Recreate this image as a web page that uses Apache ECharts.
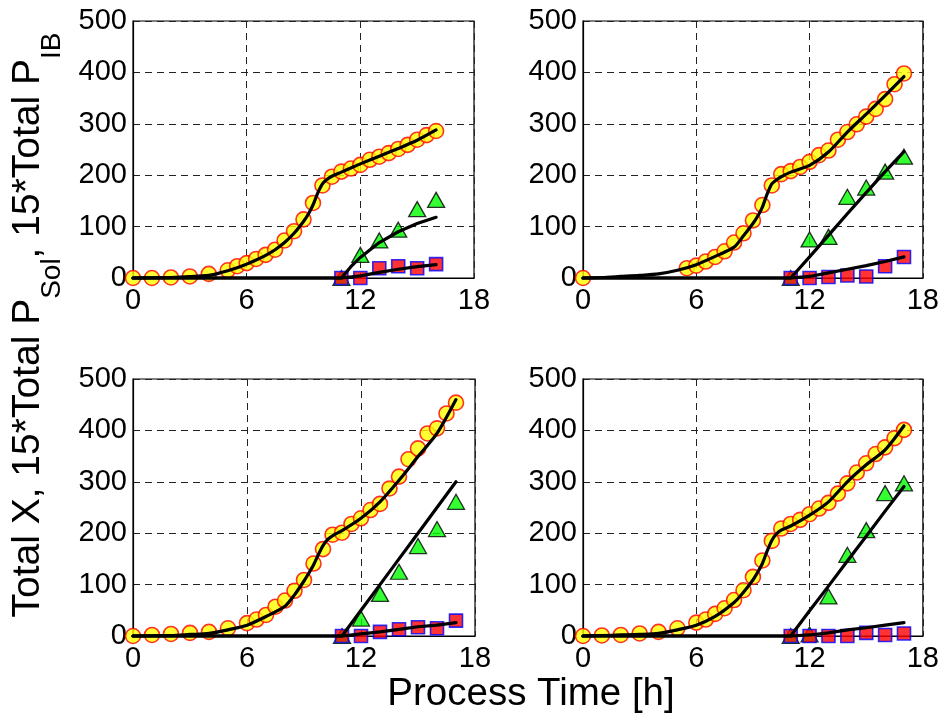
<!DOCTYPE html>
<html><head><meta charset="utf-8">
<script src="https://cdn.jsdelivr.net/npm/echarts@6/dist/echarts.min.js"></script>
<style>html,body{margin:0;padding:0;background:#fff}#c{width:942px;height:715px}</style>
</head><body><div id="c"></div>
<script>
// ---------- axis settings ----------
const xMin = 0, xMax = 18, xStep = 6;
const yMin = 0, yMax = 500, yStep = 100;
const xTitle = 'Process Time [h]';

// ---------- Top-left panel ----------
const tlCircT = [0,1,2,3,4,5,5.5,6,6.5,7,7.5,8,8.5,9,9.5,10,10.5,11,11.5,12,12.5,13,13.5,14,14.5,15,15.5,16];
const tlCircV = [0,0,1,3,8,15,23,29,37,45,55,73,91,114,146,180,197,207,213,220,230,236,243,251,259,269,278,286];
const tlTriT = [11,12,13,14,15,16];
const tlTriV = [0,45,73,94,134,152];
const tlSqT = [11,12,13,14,15,16];
const tlSqV = [0,0,19,23,19,27];
const tlFitCircT = [0,1,2,3,4,4.5,5,5.5,6,6.5,7,7.5,8,8.5,9,9.25,9.5,9.75,10,10.25,10.5,11,11.5,12,13,14,15,16];
const tlFitCircV = [0,0.5,1,2.5,5,9,14,20,27,35,44,55,69,87,110,124,142,165,183,192,198,206,214,222,237,252,268,288];
const tlFitTriT = [0,11,11.5,12,13,14,15,16];
const tlFitTriV = [0,0,22,40,69,90,106,118];
const tlFitSqT = [0,11,12,13,14,15,16];
const tlFitSqV = [0,0,4,11,17,22,26];

// ---------- Top-right panel ----------
const trCircT = [0,5.5,6,6.5,7,7.5,8,8.5,9,9.5,10,10.5,11,11.5,12,12.5,13,13.5,14,14.5,15,15.5,16,16.5,17];
const trCircV = [0,19,24,32,41,52,69,87,112,142,180,202,208,216,226,239,248,269,284,299,314,329,348,377,398];
const trTriT = [11,12,13,14,15,16,17];
const trTriV = [0,75,80,158,176,207,236];
const trSqT = [11,12,13,14,15,16,17];
const trSqV = [0,0,2,5,3,23,41];
const trFitCircT = [0,1,2,3,4,5,6,7,8,8.5,9,9.25,9.5,9.75,10,10.25,10.5,11,12,13,14,15,16,17];
const trFitCircV = [0,1,3,5,8,15,26,42,60,82,106,120,138,163,183,191,197,206,219,245,284,319,355,392];
const trFitTriT = [0,11,12,13,14,15,16,17];
const trFitTriV = [0,0,41,83,125,166,207,246];
const trFitSqT = [0,11,12,13,14,15,16,17];
const trFitSqV = [0,0,3,10,17,24,32,41];

// ---------- Bottom-left panel ----------
const blCircT = [0,1,2,3,4,5,6,6.5,7,7.5,8,8.5,9,9.5,10,10.5,11,11.5,12,12.5,13,13.5,14,14.5,15,15.5,16,16.5,17];
const blCircV = [0,2,4,6,8,15,25,32,41,57,69,88,109,141,169,197,201,218,229,245,257,287,310,344,365,394,404,433,454];
const blTriT = [11,12,13,14,15,16,17];
const blTriV = [0,34,82,125,175,208,261];
const blSqT = [11,12,13,14,15,16,17];
const blSqV = [0,0,8,13,17,15,30];
const blFitCircT = [0,1,2,3,4,5,6,7,8,8.5,9,9.25,9.5,9.75,10,10.25,10.5,11,12,13,14,15,16,17];
const blFitCircV = [0,0.5,1,3,5,12,21,38,58,80,107,122,138,158,176,188,195,205,229,261,303,349,394,460];
const blFitTriT = [0,11,12,13,14,15,16,17];
const blFitTriV = [0,0,50,100,150,200,250,300];
const blFitSqT = [0,11,12,13,14,15,16,17];
const blFitSqV = [0,0,4,8,13,18,21,26];

// ---------- Bottom-right panel ----------
const brCircT = [0,1,2,3,4,5,6,6.5,7,7.5,8,8.5,9,9.5,10,10.5,11,11.5,12,12.5,13,13.5,14,14.5,15,15.5,16,16.5,17];
const brCircV = [0,1,2,5,8,15,26,32,43,54,70,89,115,147,185,209,218,226,237,248,259,277,297,318,336,354,367,385,401];
const brTriT = [11,12,13,14,15,16,17];
const brTriV = [0,3,77,158,206,278,297];
const brSqT = [11,12,13,14,15,16,17];
const brSqV = [0,0,0,0,6,2,5];
const brFitCircT = [0,1,2,3,4,5,6,7,8,8.5,9,9.25,9.5,9.75,10,10.25,10.5,11,12,13,14,15,16,17];
const brFitCircV = [0,1,2,3,5,12,21,38,65,85,109,124,141,165,186,199,206,214,235,261,300,333,362,409];
const brFitTriT = [0,11,12,13,14,15,16,17];
const brFitTriV = [0,0,49,97,146,194,243,291];
const brFitSqT = [0,11,12,13,14,15,16,17];
const brFitSqV = [0,0,2,6,12,16,21,26];

// ---------- build ----------
const zip = (t, v) => t.map((x, i) => [x, v[i]]);
const panels = [
  {circ: zip(tlCircT, tlCircV), tri: zip(tlTriT, tlTriV), sq: zip(tlSqT, tlSqV), fits: [zip(tlFitCircT, tlFitCircV), zip(tlFitTriT, tlFitTriV), zip(tlFitSqT, tlFitSqV)]},
  {circ: zip(trCircT, trCircV), tri: zip(trTriT, trTriV), sq: zip(trSqT, trSqV), fits: [zip(trFitCircT, trFitCircV), zip(trFitTriT, trFitTriV), zip(trFitSqT, trFitSqV)]},
  {circ: zip(blCircT, blCircV), tri: zip(blTriT, blTriV), sq: zip(blSqT, blSqV), fits: [zip(blFitCircT, blFitCircV), zip(blFitTriT, blFitTriV), zip(blFitSqT, blFitSqV)]},
  {circ: zip(brCircT, brCircV), tri: zip(brTriT, brTriV), sq: zip(brSqT, brSqV), fits: [zip(brFitCircT, brFitCircV), zip(brFitTriT, brFitTriV), zip(brFitSqT, brFitSqV)]}
];
const gridPos = [
  {left: 133, top: 21, width: 341, height: 257},
  {left: 583, top: 21, width: 342, height: 257},
  {left: 133, top: 379, width: 342, height: 257},
  {left: 583, top: 379, width: 342, height: 257}
];
const FONT = "'Liberation Sans', Arial, Helvetica, sans-serif";
const dash = {color: '#222', width: 1, type: [7, 5]};

const grid = gridPos.map(g => Object.assign({show: true, borderColor: '#000', borderWidth: 1.2, backgroundColor: '#fff', containLabel: false}, g));
const xAxis = gridPos.map((g, i) => ({
  type: 'value', gridIndex: i, min: xMin, max: xMax, interval: xStep,
  axisLine: {show: true, onZero: false, lineStyle: {color: '#000', width: 1.2}},
  axisTick: {show: false},
  splitLine: {show: true, lineStyle: dash},
  axisLabel: {color: '#000', fontSize: 29, fontFamily: FONT, margin: 8, showMinLabel: true, showMaxLabel: true}
}));
const yAxis = gridPos.map((g, i) => ({
  type: 'value', gridIndex: i, min: yMin, max: yMax, interval: yStep,
  axisLine: {show: true, onZero: false, lineStyle: {color: '#000', width: 1.2}},
  axisTick: {show: false},
  splitLine: {show: true, lineStyle: dash},
  axisLabel: {color: '#000', fontSize: 29, fontFamily: FONT, margin: 6, showMinLabel: true, showMaxLabel: true}
}));

const series = [];
panels.forEach((p, i) => {
  series.push({type: 'scatter', xAxisIndex: i, yAxisIndex: i, data: p.circ, symbol: 'circle', symbolSize: 15, clip: false, z: 2,
    itemStyle: {color: '#ffff00', borderColor: '#ff0000', borderWidth: 1.6}});
  series.push({type: 'scatter', xAxisIndex: i, yAxisIndex: i, data: p.tri, symbol: 'triangle', symbolSize: [17, 15], clip: false, z: 3,
    itemStyle: {color: '#00ff00', borderColor: '#000', borderWidth: 1.3}});
  series.push({type: 'scatter', xAxisIndex: i, yAxisIndex: i, data: p.sq, symbol: 'rect', symbolSize: 13, clip: false, z: 4,
    itemStyle: {color: '#ff0000', borderColor: '#0000ff', borderWidth: 1.6}});
  p.fits.forEach((f, k) => {
    series.push({type: 'line', xAxisIndex: i, yAxisIndex: i, data: f, showSymbol: false, symbol: 'none', clip: false, z: 6,
      smooth: k === 0 ? 0.25 : false, lineStyle: {color: '#000', width: 3.2, join: 'round', cap: 'round'}});
  });
});

const chart = echarts.init(document.getElementById('c'), null, {renderer: 'canvas'});
chart.setOption({
  animation: false,
  backgroundColor: '#fff',
  grid, xAxis, yAxis, series,
  graphic: [
    {type: 'text', x: 531, y: 694, z: 10,
      style: {text: xTitle, fontSize: 38.5, fontFamily: FONT, fill: '#000', align: 'center', verticalAlign: 'middle'}},
    {type: 'text', x: 28.5, y: 325, rotation: Math.PI / 2, z: 10,
      style: {text: 'Total X, 15*Total P{sub|Sol}, 15*Total P{sub|IB}', fontSize: 39, fontFamily: FONT, fill: '#000',
        align: 'center', verticalAlign: 'middle', lineHeight: 76,
        rich: {sub: {fontSize: 28, fontFamily: FONT, fill: '#000', lineHeight: 28, verticalAlign: 'bottom'}}}}
  ]
});
</script></body></html>
